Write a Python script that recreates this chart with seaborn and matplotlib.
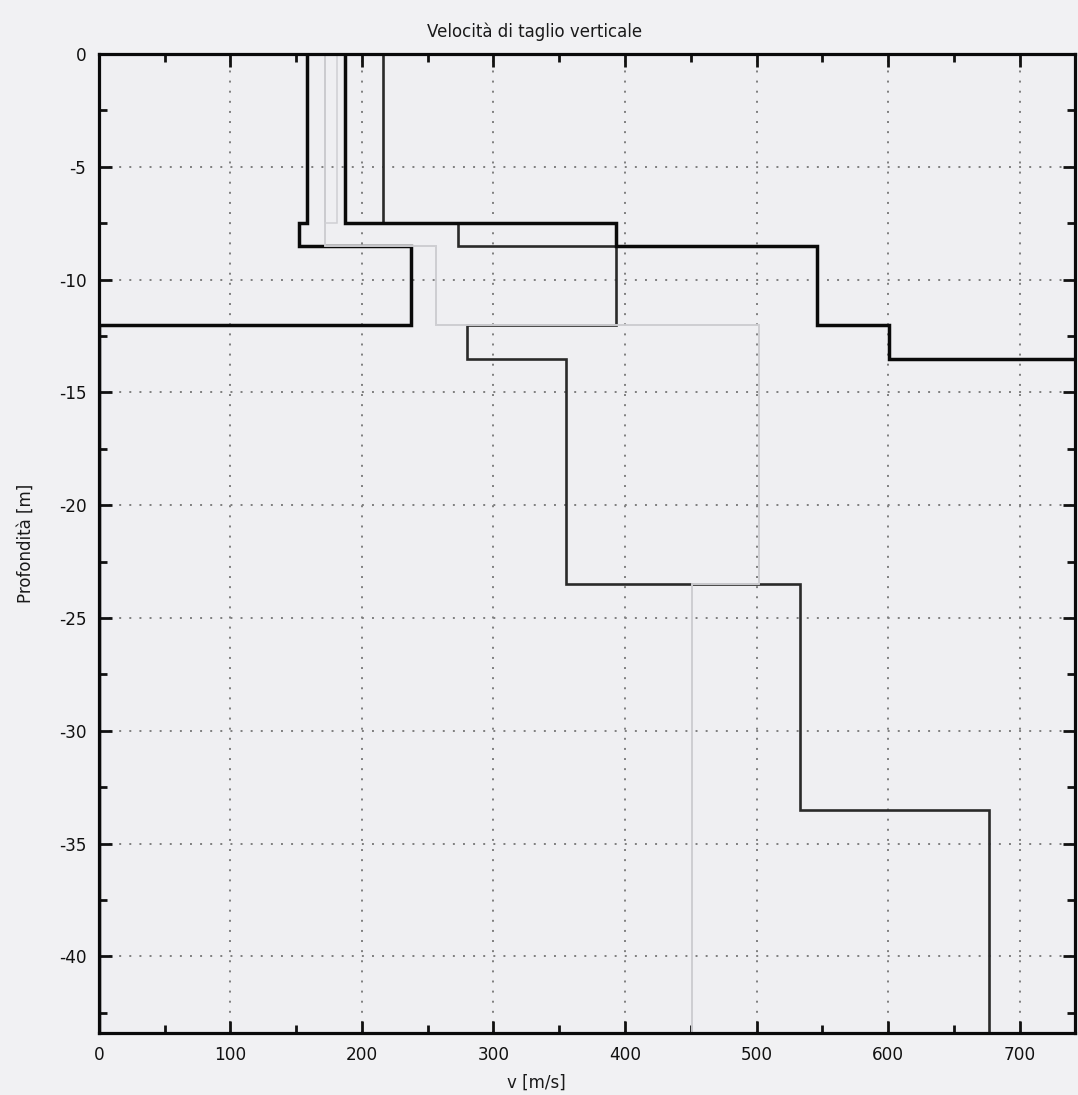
import numpy as np
import pandas as pd
import matplotlib
matplotlib.use("Agg")
import matplotlib.pyplot as plt
from matplotlib.ticker import MultipleLocator
import seaborn as sns

# Shear-wave velocity profiles: layer velocities [m/s] and interface depths [m]
vs_a = [158, 152, 237, 0]
z_a = [7.5, 8.5, 12.0]

vs_b = [187, 393, 546, 601, 800]
z_b = [7.5, 8.5, 12.0, 13.5]

vs_m = [216, 273, 393, 280, 355, 533, 677]
z_m = [7.5, 8.5, 12.0, 13.5, 23.5, 33.5]

vs_l1 = [172, 256, 502, 451]
z_l1 = [8.5, 12.0, 23.5]

vs_l2 = [181, 172, 256, 502, 451]
z_l2 = [7.5, 8.5, 12.0, 23.5]

x_ticks = [0, 100, 200, 300, 400, 500, 600, 700]
y_ticks = [0, -5, -10, -15, -20, -25, -30, -35, -40]

max_depth = 45.0


def step_path(vs, z, name):
    """Turn layer velocities and interface depths into a staircase path."""
    bounds = [0.0] + list(z) + [max_depth]
    xs, ys = [], []
    for i, v in enumerate(vs):
        xs += [v, v]
        ys += [-bounds[i], -bounds[i + 1]]
    return pd.DataFrame({"v": xs, "depth": ys, "profile": name,
                         "order": np.arange(len(xs))})


sns.set_theme(style="ticks")
plt.rcParams["font.family"] = ["DejaVu Sans"]
plt.rcParams["axes.unicode_minus"] = False

bg = "#f1f1f3"
fig = plt.figure(figsize=(10.78, 10.95), dpi=100, facecolor=bg)
ax = fig.add_axes([0.0918, 0.0566, 0.9052, 0.8941])
ax.set_facecolor("#efeff2")

styles = [
    ("m", vs_m, z_m, "#2a2a2a", 1.9, 3),
    ("b", vs_b, z_b, "#0a0a0a", 2.5, 4),
    ("a", vs_a, z_a, "#0a0a0a", 2.5, 4),
    ("l1", vs_l1, z_l1, "#c4c4c8", 1.2, 5),
    ("l2", vs_l2, z_l2, "#cfcfd3", 1.1, 5),
]
for name, vs, z, col, lw, zo in styles:
    df = step_path(vs, z, name)
    sns.lineplot(data=df, x="v", y="depth", sort=False, estimator=None,
                 color=col, linewidth=lw, ax=ax, zorder=zo,
                 solid_capstyle="butt", solid_joinstyle="miter")

ax.set_xlim(0, 742)
ax.set_ylim(-43.4, 0)
ax.set_xticks(x_ticks)
ax.set_yticks(y_ticks)
ax.xaxis.set_minor_locator(MultipleLocator(50))
ax.yaxis.set_minor_locator(MultipleLocator(2.5))
ax.set_xlabel("")
ax.set_ylabel("")

ax.grid(True, which="major", color="#7e7e7e", linewidth=1.4,
        linestyle=(0, (1, 4.2)))
ax.set_axisbelow(True)

ax.tick_params(which="both", direction="in", top=True, right=True,
               width=2.0, colors="#111111", labelsize=12.2, pad=9)
ax.tick_params(which="major", length=9)
ax.tick_params(which="minor", length=6)
for side in ["left", "right", "top", "bottom"]:
    ax.spines[side].set_visible(True)
    ax.spines[side].set_linewidth(2.3)
    ax.spines[side].set_color("#0a0a0a")
    ax.spines[side].set_zorder(6)

# Title and axis labels are centred on the whole page
fig.text(0.496, 0.971, "Velocità di taglio verticale", fontsize=12,
         ha="center", va="center", color="#1a1a1a")
fig.text(0.498, 0.011, "v [m/s]", fontsize=12, ha="center", va="center",
         color="#1a1a1a")
fig.text(0.024, 0.504, "Profondità [m]", fontsize=12, ha="center",
         va="center", rotation=90, color="#1a1a1a")

fig.savefig("out.png", dpi=100, facecolor=bg)
